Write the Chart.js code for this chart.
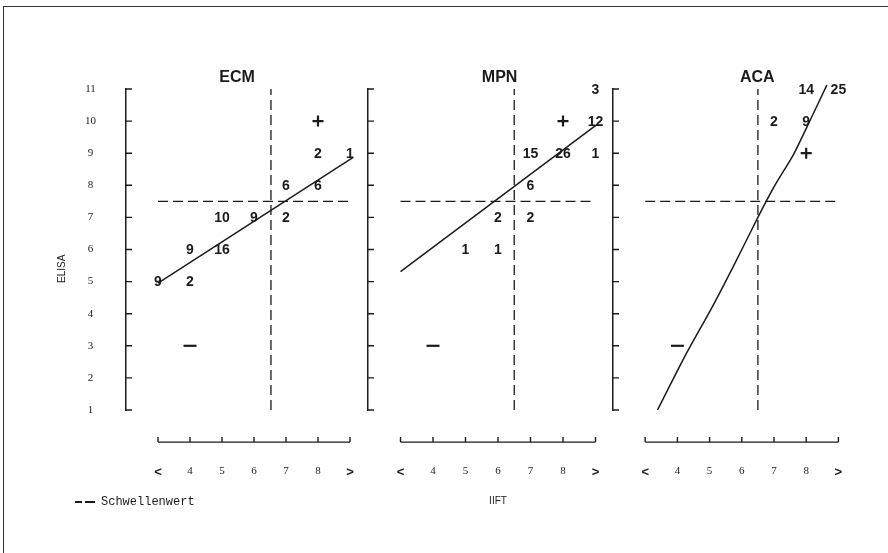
<!DOCTYPE html>
<html>
<head>
<meta charset="utf-8">
<script src="https://cdn.jsdelivr.net/npm/chart.js@4.4.1/dist/chart.umd.min.js"></script>
<style>
  html, body { margin: 0; padding: 0; background: #fff; }
  #page { position: relative; width: 888px; height: 553px; overflow: hidden; }
  #frame { position: absolute; left: 3px; top: 6px; right: -10px; bottom: -10px;
           border-left: 1.5px solid #333; border-top: 1.5px solid #333; }
  canvas { position: absolute; top: 0; }
</style>
</head>
<body>
<div id="page">
  <div id="frame"></div>
  <canvas id="ecmChart" width="400" height="553" style="left:0px"></canvas>
  <canvas id="mpnChart" width="400" height="553" style="left:242px"></canvas>
  <canvas id="acaChart" width="400" height="553" style="left:487px"></canvas>
</div>
<script>
// IIFT classes on the x axis, ELISA classes on the y axis
const xCategories = ['<', '4', '5', '6', '7', '8', '>'];
const yTicks = [1, 2, 3, 4, 5, 6, 7, 8, 9, 10, 11];
const elisaCut = 7.5;

// ECM: number of samples per (IIFT, ELISA) cell
const ecmCountX = ['<', '4', '4', '5', '5', '6', '7', '7', '8', '8', '>'];
const ecmCountY = [5, 5, 6, 6, 7, 7, 7, 8, 8, 9, 9];
const ecmCountN = ['9', '2', '9', '16', '10', '9', '2', '6', '6', '2', '1'];
const ecmPlusX = ['8'], ecmPlusY = [10];
const ecmMinusX = ['4'], ecmMinusY = [3];
// regression line (x in class steps, 0 = "<")
const ecmFitX = [0, 6.1];
const ecmFitY = [4.95, 8.87];
const ecmCutX = 3.53;

// MPN
const mpnCountX = ['5', '6', '6', '7', '7', '7', '8', '>', '>', '>'];
const mpnCountY = [6, 6, 7, 7, 8, 9, 9, 9, 10, 11];
const mpnCountN = ['1', '1', '2', '2', '6', '15', '26', '1', '12', '3'];
const mpnPlusX = ['8'], mpnPlusY = [10];
const mpnMinusX = ['4'], mpnMinusY = [3];
const mpnFitX = [0, 6.03];
const mpnFitY = [5.31, 9.88];
const mpnCutX = 3.5;

// ACA
const acaCountX = ['7', '8', '8', '>'];
const acaCountY = [10, 10, 11, 11];
const acaCountN = ['2', '9', '14', '25'];
const acaPlusX = ['8'], acaPlusY = [9];
const acaMinusX = ['4'], acaMinusY = [3];
const acaFitX = [0.38, 1.3, 2.05, 2.75, 3.5, 4.0, 4.6, 5.1, 5.64];
const acaFitY = [1.0, 2.8, 4.15, 5.5, 7.0, 7.95, 8.95, 9.98, 11.12];
const acaCutX = 3.5;

const ink = '#1b1b1b';

function pts(xs, ys) {
    return xs.map((x, i) => ({
        x: typeof x === 'string' ? xCategories.indexOf(x) : x,
        y: ys[i]
    }));
}

// little dashed stroke for the legend entry
const dashIcon = document.createElement('canvas');
dashIcon.width = 20;
dashIcon.height = 2;
(function () {
    const c = dashIcon.getContext('2d');
    c.fillStyle = ink;
    c.fillRect(0, 0, 7, 2);
    c.fillRect(10, 0, 10, 2);
})();

// axis bits that Chart.js can't draw: inward y ticks, detached x axis, titles
const panelDecor = {
    id: 'panelDecor',
    afterDraw(chart, args, opts) {
        const { ctx, chartArea } = chart;
        const xs = chart.scales.x;
        const ys = chart.scales.y;
        ctx.save();
        ctx.strokeStyle = ink;
        ctx.lineWidth = 1.4;
        ctx.beginPath();
        yTicks.forEach(v => {
            const py = ys.getPixelForValue(v);
            ctx.moveTo(chartArea.left, py);
            ctx.lineTo(chartArea.left + 6, py);
        });
        const base = ys.getPixelForValue(0);
        ctx.moveTo(xs.getPixelForValue(0), base);
        ctx.lineTo(xs.getPixelForValue(xCategories.length - 1), base);
        xCategories.forEach((c, i) => {
            const px = xs.getPixelForValue(i);
            ctx.moveTo(px, base);
            ctx.lineTo(px, base - 5);
        });
        ctx.stroke();

        ctx.fillStyle = ink;
        ctx.textAlign = 'center';
        ctx.textBaseline = 'middle';
        ctx.font = 'bold 16px "Liberation Sans", Arial, sans-serif';
        ctx.fillText(opts.title, xs.getPixelForValue(opts.titleAt), chartArea.top - 11);

        if (opts.xTitle) {
            ctx.font = '10px "Liberation Sans", Arial, sans-serif';
            ctx.fillText(opts.xTitle, xs.getPixelForValue(opts.xTitleAt), base + 59);
        }
        if (opts.yTitle) {
            ctx.font = '10px "Liberation Sans", Arial, sans-serif';
            ctx.translate(chartArea.left - 64, ys.getPixelForValue(5.4));
            ctx.rotate(-Math.PI / 2);
            ctx.fillText(opts.yTitle, 0, 0);
        }
        ctx.restore();
    },
    afterDatasetsDraw(chart) {
        const { ctx } = chart;
        ctx.save();
        ctx.fillStyle = ink;
        ctx.font = 'bold 14px "Liberation Sans", Arial, sans-serif';
        ctx.textAlign = 'center';
        ctx.textBaseline = 'middle';
        chart.data.datasets.forEach((ds, i) => {
            if (!ds.counts) return;
            chart.getDatasetMeta(i).data.forEach((p, j) => {
                ctx.fillText(ds.counts[j], p.x, p.y + 1);
            });
        });
        ctx.restore();
    }
};

function makePanel(id, p) {
    const datasets = [
        {
            label: 'Schwellenwert',
            data: [{ x: 0, y: elisaCut }, { x: p.cutEnd, y: elisaCut }],
            showLine: true, pointRadius: 0, borderColor: ink, borderWidth: 1.3,
            borderDash: [10, 5], clip: false
        },
        {
            label: 'Schwellenwert IIFT',
            data: [{ x: p.cutX, y: 1 }, { x: p.cutX, y: 11 }],
            showLine: true, pointRadius: 0, borderColor: ink, borderWidth: 1.3,
            borderDash: [10, 5], clip: false
        },
        {
            label: 'Regression',
            data: pts(p.fitX, p.fitY),
            showLine: true, pointRadius: 0, borderColor: ink, borderWidth: 1.5,
            tension: p.tension || 0, clip: false
        },
        {
            label: 'Anzahl',
            data: pts(p.countX, p.countY),
            counts: p.countN,
            pointRadius: 0, clip: false
        },
        {
            label: 'positiv',
            data: pts(p.plusX, p.plusY),
            pointStyle: 'cross', pointRadius: 5.5, borderWidth: 2.2,
            borderColor: ink, clip: false
        },
        {
            label: 'negativ',
            data: pts(p.minusX, p.minusY),
            pointStyle: 'line', pointRadius: 6.5, borderWidth: 2.2,
            borderColor: ink, clip: false
        }
    ];

    const ctx = document.getElementById(id).getContext('2d');
    return new Chart(ctx, {
        type: 'scatter',
        data: { datasets: datasets },
        options: {
            responsive: false,
            animation: false,
            events: [],
            layout: {
                padding: { top: 89, left: 64, right: p.padRight, bottom: p.legend ? 35 : 68 }
            },
            scales: {
                x: {
                    type: 'linear',
                    position: 'bottom',
                    min: -1,
                    max: xCategories.length - 1,
                    afterFit: s => { s.height = 75; },
                    afterBuildTicks: s => { s.ticks = xCategories.map((c, i) => ({ value: i })); },
                    grid: { display: false, drawTicks: true, tickLength: 52 },
                    border: { display: false },
                    ticks: {
                        autoSkip: false,
                        maxRotation: 0,
                        padding: 3,
                        color: ink,
                        font: c => (c.tick && (c.tick.value === 0 || c.tick.value === xCategories.length - 1))
                            ? { family: '"Liberation Sans", Arial, sans-serif', size: 13, weight: 'bold' }
                            : { family: '"Liberation Serif", serif', size: 11 },
                        callback: v => xCategories[v] ?? ''
                    }
                },
                y: {
                    min: 1,
                    max: 11,
                    afterFit: s => { s.width = 62; },
                    afterBuildTicks: s => { s.ticks = yTicks.map(v => ({ value: v })); },
                    grid: { display: false, drawTicks: true, tickLength: 26 },
                    border: { display: true, color: ink, width: 1.5 },
                    ticks: {
                        display: !!p.showY,
                        padding: 4,
                        crossAlign: 'center',
                        color: ink,
                        font: { family: '"Liberation Serif", serif', size: 11 }
                    }
                }
            },
            plugins: {
                tooltip: { enabled: false },
                legend: {
                    display: !!p.legend,
                    position: 'bottom',
                    align: 'start',
                    labels: {
                        usePointStyle: true,
                        pointStyle: dashIcon,
                        pointStyleWidth: 20,
                        padding: 11,
                        color: ink,
                        font: { family: '"Liberation Mono", monospace', size: 12 },
                        filter: item => item.datasetIndex === 0
                    }
                },
                panelDecor: {
                    title: p.title,
                    titleAt: p.titleAt,
                    xTitle: p.xTitle,
                    xTitleAt: 3,
                    yTitle: p.yTitle
                }
            }
        },
        plugins: [panelDecor]
    });
}

makePanel('ecmChart', {
    title: 'ECM', titleAt: 2.47, yTitle: 'ELISA', showY: true, legend: true, padRight: 50,
    countX: ecmCountX, countY: ecmCountY, countN: ecmCountN,
    plusX: ecmPlusX, plusY: ecmPlusY, minusX: ecmMinusX, minusY: ecmMinusY,
    fitX: ecmFitX, fitY: ecmFitY, cutX: ecmCutX, cutEnd: 6.05
});
makePanel('mpnChart', {
    title: 'MPN', titleAt: 3.05, xTitle: 'IIFT', padRight: 46.5,
    countX: mpnCountX, countY: mpnCountY, countN: mpnCountN,
    plusX: mpnPlusX, plusY: mpnPlusY, minusX: mpnMinusX, minusY: mpnMinusY,
    fitX: mpnFitX, fitY: mpnFitY, cutX: mpnCutX, cutEnd: 6.0
});
makePanel('acaChart', {
    title: 'ACA', titleAt: 3.48, padRight: 48.6,
    countX: acaCountX, countY: acaCountY, countN: acaCountN,
    plusX: acaPlusX, plusY: acaPlusY, minusX: acaMinusX, minusY: acaMinusY,
    fitX: acaFitX, fitY: acaFitY, cutX: acaCutX, cutEnd: 6.0, tension: 0.2
});
</script>
</body>
</html>
